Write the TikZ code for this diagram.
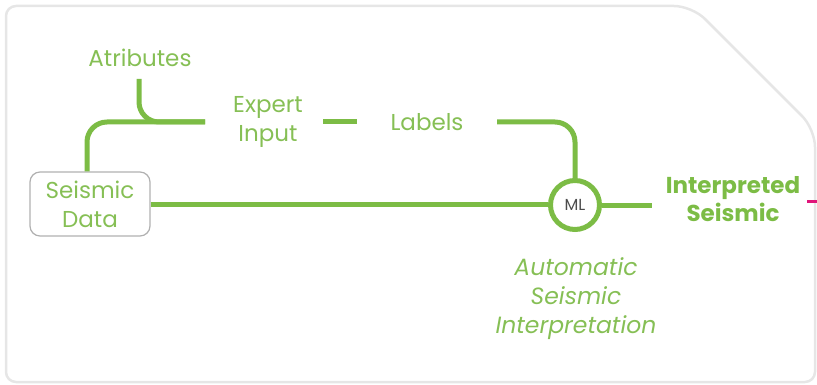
\documentclass[tikz,border=0pt]{standalone}
\usepackage{fontspec}
\setmainfont{Poppins}
\definecolor{leaf}{HTML}{7CBC45}
\definecolor{leaftext}{HTML}{86BF55}
\definecolor{frame}{HTML}{E6E6E6}
\definecolor{boxline}{HTML}{B0B0B0}
\definecolor{accent}{HTML}{E0157A}
\begin{document}
\begin{tikzpicture}[x=1pt,y=-1pt,
  lbl/.style={text=leaftext,font=\fontsize{23}{29}\selectfont,align=center,inner sep=0pt},
  result/.style={text=leaf,font=\fontsize{23}{28}\selectfont\bfseries,align=center,inner sep=0pt},
  note/.style={text=leaftext,font=\fontsize{23.5}{29}\selectfont\itshape,align=center,inner sep=0pt},
  databox/.style={draw=boxline,line width=1.2pt,rounded corners=10pt,minimum width=120pt,minimum height=64pt,
    text=leaftext,font=\fontsize{23}{29}\selectfont,align=center,inner sep=0pt},
  mlnode/.style={circle,draw=leaf,line width=5pt,minimum size=49pt,inner sep=0pt,
    text=black!70,font=\fontsize{16}{18}\selectfont},
  flow/.style={draw=leaf,line width=5pt}]
\useasboundingbox (0,0) rectangle (817,385);
% outer card with a chamfered top-right corner
\draw[frame,line width=2.5pt,rounded corners=10pt]
  (6,6) [rounded corners=18pt] -- (692,6) -- (815,129) [rounded corners=10pt] -- (815,382) -- (6,382) -- cycle;
% nodes
\node[databox] (sd) at (90,204) {Seismic\\Data};
\node[lbl] (attr) at (140,58) {Atributes};
\node[lbl] (expert) at (268,122) {Expert\\Input};
\node[lbl] (labels) at (427,122) {Labels};
\node[mlnode] (ml) at (575,205) {ML};
\node[result] (interp) at (733,199) {Interpreted\\Seismic};
\node[note] (auto) at (576,299) {Automatic\\Seismic\\Interpretation};
\coordinate (ein) at (205,122);
\coordinate (dashA) at (323,122);
\coordinate (dashB) at (357,122);
\coordinate (lout) at (497,122);
\coordinate (out) at (652,205);
\coordinate (attrfoot) at (139,79);
% connectors
\draw[flow,rounded corners=20pt] ([xshift=-3pt]sd.north) |- (ein);
\draw[flow,rounded corners=20pt] (attrfoot) |- (ein);
\draw[flow] (dashA) -- (dashB);
\draw[flow,rounded corners=20pt] (lout) -| (ml.north);
\draw[flow] (sd.east) -- (sd.east -| ml.west);
\draw[flow] (ml.east) -- (out);
\draw[accent,line width=3pt] (807,201) -- (817,201);
\end{tikzpicture}
\end{document}
